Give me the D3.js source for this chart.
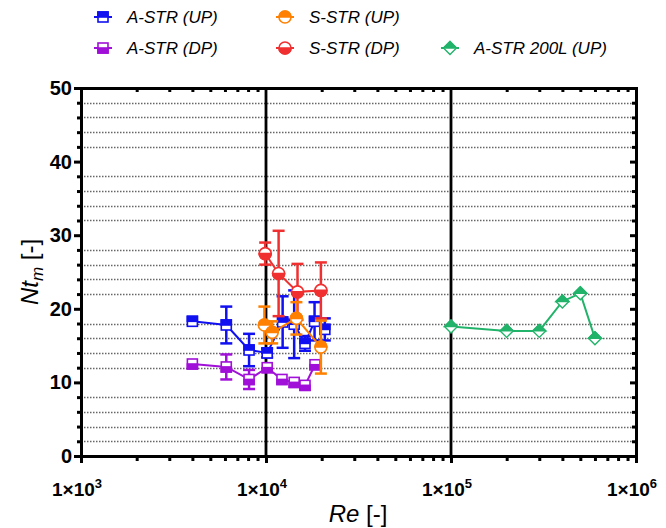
<!DOCTYPE html>
<html>
<head>
<meta charset="utf-8">
<script src="https://cdn.jsdelivr.net/npm/d3@7"></script>
<style>
body { margin: 0; background: #fff; }
text { font-family: "Liberation Sans", Arial, sans-serif; }
</style>
</head>
<body>
<svg id="chart"></svg>
<script>
// A-STR (UP)
var astrUpRe  = [4000, 6100, 8100, 10150, 12300, 14200, 16250, 18300, 20800];
var astrUpNt  = [18.3, 17.8, 14.4, 14.0, 18.2, 17.9, 15.3, 18.3, 17.2];
var astrUpErr = [0.3, 2.5, 2.2, 0.6, 3.5, 4.6, 1.0, 2.6, 1.5];

// A-STR (DP)
var astrDpRe  = [4000, 6100, 8100, 10150, 12200, 14200, 16250, 18400];
var astrDpNt  = [12.5, 12.1, 10.4, 12.0, 10.4, 10.0, 9.6, 12.4];
var astrDpErr = [0.3, 1.7, 1.3, 0.4, 0.3, 0.3, 0.3, 0.5];

// S-STR (UP)
var sstrUpRe  = [9800, 10800, 14600, 19800];
var sstrUpNt  = [17.8, 16.8, 18.7, 14.8];
var sstrUpErr = [2.5, 1.5, 2.2, 3.6];

// S-STR (DP)
var sstrDpRe  = [9900, 11700, 14800, 19800];
var sstrDpNt  = [27.5, 24.8, 22.3, 22.5];
var sstrDpErr = [1.5, 5.8, 3.8, 3.8];

// A-STR 200L (UP)
var a200Re = [100000, 200000, 300000, 400000, 500000, 600000];
var a200Nt = [17.6, 17.0, 17.0, 21.0, 22.1, 16.0];

var xDecades = [1e3, 1e4, 1e5, 1e6];
var yTicks = [0, 10, 20, 30, 40, 50];

var W = 666, H = 528;
var svg = d3.select('#chart').attr('width', W).attr('height', H);

var x = d3.scaleLog().domain([1e3, 1e6]).range([81, 636]);
var y = d3.scaleLinear().domain([0, 50]).range([456, 88]);

var minorX = [];
[1e3, 1e4, 1e5].forEach(function(d){
    for (var k = 2; k <= 9; k++) minorX.push(d * k);
});
var minorY = d3.range(2, 50, 2).filter(function(v){ return v % 10 != 0; });

// dotted grid lines
svg.append('g').selectAll('line')
    .data(minorY)
    .enter().append('line')
    .attr('x1', x(1e3) + 3).attr('x2', x(1e6) - 3)
    .attr('y1', function(d){ return Math.round(y(d)) + 0.5; })
    .attr('y2', function(d){ return Math.round(y(d)) + 0.5; })
    .attr('stroke', '#666')
    .attr('stroke-width', 1.3)
    .attr('stroke-dasharray', '1.5,1.5');

// vertical decade lines
svg.append('g').selectAll('line')
    .data([1e4, 1e5])
    .enter().append('line')
    .attr('x1', function(d){ return x(d); }).attr('x2', function(d){ return x(d); })
    .attr('y1', y(0)).attr('y2', y(50))
    .attr('stroke', '#000').attr('stroke-width', 2.8);

// axes
var axisG = svg.append('g');
axisG.append('g')
    .attr('transform', 'translate(0,' + y(0) + ')')
    .call(d3.axisBottom(x).tickValues(xDecades).tickSize(7).tickFormat(''))
    .call(function(g){ g.select('.domain').attr('stroke-width', 3); g.selectAll('line').attr('stroke-width', 3); });
axisG.append('g')
    .attr('transform', 'translate(0,' + y(0) + ')')
    .call(d3.axisBottom(x).tickValues(minorX).tickSize(5).tickFormat(''))
    .call(function(g){ g.select('.domain').remove(); g.selectAll('line').attr('stroke-width', 3); });

axisG.append('g')
    .attr('transform', 'translate(0,' + y(50) + ')')
    .call(d3.axisBottom(x).tickValues(minorX).tickSize(4).tickFormat(''))
    .call(function(g){ g.select('.domain').attr('stroke-width', 3); g.selectAll('line').attr('stroke-width', 3); });

axisG.append('g')
    .attr('transform', 'translate(' + x(1e3) + ',0)')
    .call(d3.axisLeft(y).tickValues(yTicks).tickSize(7).tickPadding(2).tickFormat(d3.format('d')))
    .call(function(g){
        g.select('.domain').attr('stroke-width', 3);
        g.selectAll('line').attr('stroke-width', 3);
        g.selectAll('text').attr('font-size', 20).attr('font-weight', 'bold').attr('fill', '#000')
            .attr('font-family', '"Liberation Sans", Arial, sans-serif');
    });
axisG.append('g')
    .attr('transform', 'translate(' + x(1e3) + ',0)')
    .call(d3.axisLeft(y).tickValues(minorY).tickSize(4).tickFormat(''))
    .call(function(g){ g.select('.domain').remove(); g.selectAll('line').attr('stroke-width', 3); });

axisG.append('g')
    .attr('transform', 'translate(' + x(1e6) + ',0)')
    .call(d3.axisLeft(y).tickValues(yTicks).tickSize(6).tickFormat(''))
    .call(function(g){ g.select('.domain').attr('stroke-width', 3); g.selectAll('line').attr('stroke-width', 3); });
axisG.append('g')
    .attr('transform', 'translate(' + x(1e6) + ',0)')
    .call(d3.axisLeft(y).tickValues(minorY).tickSize(4).tickFormat(''))
    .call(function(g){ g.select('.domain').remove(); g.selectAll('line').attr('stroke-width', 3); });

// x tick labels 1×10^n
var xl = svg.append('g').selectAll('text')
    .data(xDecades)
    .enter().append('text')
    .attr('x', function(d){ return x(d) - 4; })
    .attr('y', 496)
    .attr('text-anchor', 'middle')
    .attr('font-size', 19)
    .attr('font-weight', 'bold');
xl.append('tspan').text('1×10');
xl.append('tspan').attr('dy', -8).attr('font-size', 13)
    .text(function(d){ return Math.round(Math.log10(d)); });

// axis titles
var xt = svg.append('text')
    .attr('x', 358).attr('y', 522)
    .attr('text-anchor', 'middle')
    .attr('font-size', 24);
xt.append('tspan').attr('font-style', 'italic').text('Re');
xt.append('tspan').text(' [-]');

var yt = svg.append('text')
    .attr('transform', 'translate(38,272) rotate(-90)')
    .attr('text-anchor', 'middle')
    .attr('font-size', 24);
yt.append('tspan').attr('font-style', 'italic').text('Nt');
yt.append('tspan').attr('font-style', 'italic').attr('font-size', 17).attr('dy', 5).text('m');
yt.append('tspan').attr('dy', -5).text(' [-]');

// marker helpers
function squareMarker(g, cx, cy, color, topFilled){
    var s = 10;
    g.append('rect').attr('x', cx - s/2).attr('y', cy - s/2).attr('width', s).attr('height', s)
        .attr('fill', '#fff').attr('stroke', color).attr('stroke-width', 1.6);
    g.append('rect').attr('x', cx - s/2).attr('y', topFilled ? cy - s/2 : cy).attr('width', s).attr('height', s/2)
        .attr('fill', color).attr('stroke', color).attr('stroke-width', 1.6);
}
function circleMarker(g, cx, cy, color, topFilled){
    var r = 6;
    g.append('circle').attr('cx', cx).attr('cy', cy).attr('r', r)
        .attr('fill', '#fff').attr('stroke', color).attr('stroke-width', 1.6);
    var p = topFilled
        ? 'M' + (cx - r) + ',' + cy + ' A' + r + ',' + r + ' 0 0 1 ' + (cx + r) + ',' + cy + ' Z'
        : 'M' + (cx - r) + ',' + cy + ' A' + r + ',' + r + ' 0 0 0 ' + (cx + r) + ',' + cy + ' Z';
    g.append('path').attr('d', p).attr('fill', color).attr('stroke', color).attr('stroke-width', 1.6);
}
function diamondMarker(g, cx, cy, color){
    var r = 6.5;
    g.append('path')
        .attr('d', 'M' + cx + ',' + (cy - r) + ' L' + (cx + r) + ',' + cy + ' L' + cx + ',' + (cy + r) + ' L' + (cx - r) + ',' + cy + ' Z')
        .attr('fill', '#fff').attr('stroke', color).attr('stroke-width', 1.4);
    g.append('path')
        .attr('d', 'M' + cx + ',' + (cy - r) + ' L' + (cx + r) + ',' + cy + ' L' + (cx - r) + ',' + cy + ' Z')
        .attr('fill', color).attr('stroke', color).attr('stroke-width', 1.4);
}

function drawSeries(re, nt, err, color, marker, topFilled){
    var g = svg.append('g');
    var pts = re.map(function(d, i){ return {re: d, nt: nt[i], err: err ? err[i] : 0}; });
    var line = d3.line().x(function(d){ return x(d.re); }).y(function(d){ return y(d.nt); });
    g.append('path').datum(pts).attr('d', line)
        .attr('fill', 'none').attr('stroke', color).attr('stroke-width', 2);
    pts.forEach(function(d){
        if (d.err > 0.5){
            var cx = x(d.re);
            g.append('line').attr('x1', cx).attr('x2', cx)
                .attr('y1', y(d.nt - d.err)).attr('y2', y(d.nt + d.err))
                .attr('stroke', color).attr('stroke-width', 2.5);
            [d.nt - d.err, d.nt + d.err].forEach(function(v){
                g.append('line').attr('x1', cx - 6).attr('x2', cx + 6)
                    .attr('y1', y(v)).attr('y2', y(v))
                    .attr('stroke', color).attr('stroke-width', 2.5);
            });
        }
    });
    pts.forEach(function(d){
        marker(g, x(d.re), y(d.nt), color, topFilled);
    });
}

var cBlue = '#1010f0', cPurple = '#a010d8', cOrange = '#ff8000', cRed = '#f03030', cGreen = '#22b36a';

drawSeries(astrDpRe, astrDpNt, astrDpErr, cPurple, squareMarker, false);
drawSeries(astrUpRe, astrUpNt, astrUpErr, cBlue, squareMarker, true);
drawSeries(sstrDpRe, sstrDpNt, sstrDpErr, cRed, circleMarker, false);
drawSeries(sstrUpRe, sstrUpNt, sstrUpErr, cOrange, circleMarker, true);
drawSeries(a200Re, a200Nt, null, cGreen, diamondMarker, true);

// legend
var legendItems = [
    {name: 'A-STR (UP)', color: cBlue, marker: squareMarker, top: true, lx: 103, ly: 17},
    {name: 'S-STR (UP)', color: cOrange, marker: circleMarker, top: true, lx: 285, ly: 17},
    {name: 'A-STR (DP)', color: cPurple, marker: squareMarker, top: false, lx: 103, ly: 48},
    {name: 'S-STR (DP)', color: cRed, marker: circleMarker, top: false, lx: 285, ly: 48},
    {name: 'A-STR 200L (UP)', color: cGreen, marker: diamondMarker, top: true, lx: 450, ly: 48}
];
var lg = svg.append('g');
legendItems.forEach(function(d){
    lg.append('line').attr('x1', d.lx - 9).attr('x2', d.lx + 9)
        .attr('y1', d.ly).attr('y2', d.ly)
        .attr('stroke', d.color).attr('stroke-width', 2);
    d.marker(lg, d.lx, d.ly, d.color, d.top);
    lg.append('text').attr('x', d.lx + 24).attr('y', d.ly + 6)
        .attr('font-size', 17).attr('font-style', 'italic')
        .text(d.name);
});
</script>
</body>
</html>
